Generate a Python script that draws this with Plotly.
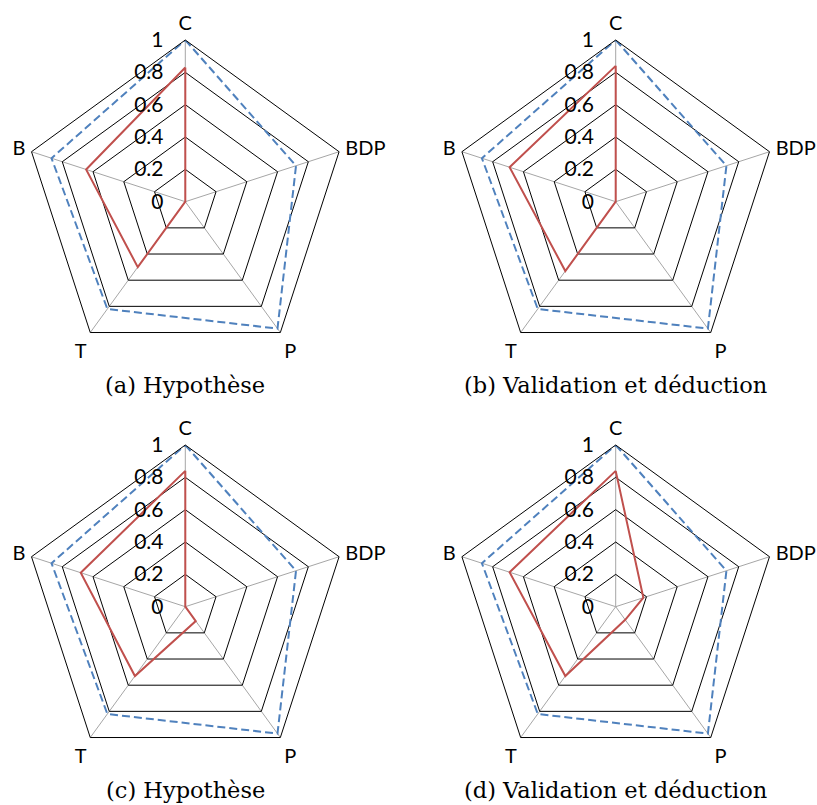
import plotly.graph_objects as go

categories = ["C", "BDP", "P", "T", "B"]
blue_values = [1.0, 0.72, 0.97, 0.82, 0.87]
red_a = [0.83, 0.0, 0.0, 0.50, 0.645]
red_b = [0.84, 0.0, 0.0, 0.53, 0.69]
red_c = [0.84, 0.0, 0.11, 0.53, 0.68]
red_d = [0.84, 0.18, 0.10, 0.53, 0.69]
captions = ["(a) Hypothèse", "(b) Validation et déduction",
            "(c) Hypothèse", "(d) Validation et déduction"]
radial_ticks = [0, 0.2, 0.4, 0.6, 0.8, 1]

W, H = 817, 805
R = 161.7
centers = [(185.3, 201.7), (615.7, 201.7), (185.3, 606.7), (615.7, 606.7)]
caption_y = [385, 385, 790, 790]
reds = [red_a, red_b, red_c, red_d]

RADIAL_FONT = dict(family="Lato", size=21, color="black")
ANGULAR_FONT = dict(family="Lato", size=20, color="black")

fig = go.Figure()
annotations = []
for i, (cx, cy) in enumerate(centers):
    pname = "polar" if i == 0 else f"polar{i+1}"
    theta = categories + [categories[0]]
    fig.add_trace(go.Scatterpolar(
        r=blue_values + [blue_values[0]], theta=theta, mode="lines",
        line=dict(color="#4F81BD", width=2, dash="8px,4px"),
        subplot=pname, showlegend=False, hoverinfo="skip"))
    rv = reds[i]
    fig.add_trace(go.Scatterpolar(
        r=rv + [rv[0]], theta=theta, mode="lines",
        line=dict(color="#C0504D", width=2),
        subplot=pname, showlegend=False, hoverinfo="skip"))
    dom = dict(x=[(cx - R) / W, (cx + R) / W],
               y=[1 - (cy + R) / H, 1 - (cy - R) / H])
    fig.update_layout(**{pname: dict(
        domain=dom,
        bgcolor="white",
        gridshape="linear",
        radialaxis=dict(
            range=[0, 1], tickvals=radial_ticks,
            ticktext=[f"{v:g}" for v in radial_ticks],
            angle=90, tickangle=90, side="counterclockwise",
            showline=False, gridcolor="black", gridwidth=1,
            ticks="outside", ticklen=14, tickcolor="rgba(0,0,0,0)",
            tickfont=RADIAL_FONT, layer="above traces"),
        angularaxis=dict(
            categoryorder="array", categoryarray=categories,
            direction="clockwise", rotation=90,
            showline=True, linecolor="black", linewidth=1,
            gridcolor="#A6A6A6", gridwidth=1,
            ticks="outside", ticklen=2, tickcolor="rgba(0,0,0,0)",
            tickfont=ANGULAR_FONT),
    )})
    annotations.append(dict(
        x=cx / W, y=1 - caption_y[i] / H, xref="paper", yref="paper",
        text=captions[i], showarrow=False, xanchor="center", yanchor="middle",
        font=dict(family="DejaVu Serif", size=22.5, color="black")))

fig.update_layout(width=W, height=H, margin=dict(l=0, r=0, t=0, b=0),
                  paper_bgcolor="white", annotations=annotations)
fig.write_html("out.html",
               config={"displayModeBar": False, "staticPlot": True},
               post_script="document.body.style.margin='0px';document.body.style.overflow='hidden';")
